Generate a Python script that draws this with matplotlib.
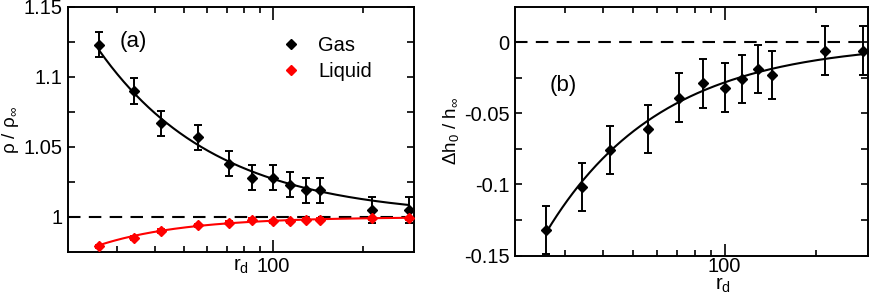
import numpy as np
import matplotlib
matplotlib.use("Agg")
import matplotlib.pyplot as plt
from matplotlib.ticker import FixedLocator, NullFormatter, FuncFormatter
from matplotlib.lines import Line2D

plt.rcParams['font.family'] = ['Liberation Sans', 'DejaVu Sans']
plt.rcParams['mathtext.fontset'] = 'custom'
plt.rcParams['mathtext.rm'] = 'Liberation Sans'
plt.rcParams['mathtext.it'] = 'Liberation Sans:italic'
plt.rcParams['mathtext.default'] = 'regular'
plt.rcParams['axes.unicode_minus'] = False

# ---------------- data ----------------
r_d = [26, 34, 42, 56, 71, 85, 100, 114, 129, 143, 214, 284]

series_names = ["Gas", "Liquid"]
gas_rho = [1.123, 1.090, 1.067, 1.057, 1.038, 1.028, 1.028, 1.023, 1.019, 1.019, 1.005, 1.005]
gas_err = [0.009, 0.009, 0.009, 0.009, 0.009, 0.009, 0.009, 0.009, 0.009, 0.009, 0.009, 0.009]
liq_rho = [0.979, 0.985, 0.990, 0.994, 0.996, 0.998, 0.997, 0.997, 0.998, 0.998, 0.999, 0.999]
liq_err = [0.0012, 0.0012, 0.0012, 0.0012, 0.0012, 0.0012, 0.0012, 0.0012, 0.0012, 0.0012, 0.0012, 0.0012]

dh = [-0.132, -0.102, -0.076, -0.061, -0.039, -0.029, -0.032, -0.026, -0.019, -0.023, -0.006, -0.006]
dh_err = [0.017, 0.017, 0.017, 0.017, 0.017, 0.017, 0.017, 0.017, 0.017, 0.017, 0.017, 0.017]

# power-law fit parameters (amplitude, exponent)
gas_fit = (4.30, 1.10)     # rho/rho_inf = 1 + A r^-p
liq_fit = (2.68, 1.50)     # rho/rho_inf = 1 - A r^-p
dh_fit = (5.66, 1.15)      # dh0/h_inf = -A r^-p

x_major = [100]
x_minor = [30, 40, 50, 60, 70, 80, 90, 200]

FS = 14.5
MS = 5.2
W, H = 872, 295
fig = plt.figure(figsize=(W / 100, H / 100), dpi=100)
ax1 = fig.add_axes([68 / W, (H - 252) / H, 346 / W, 245 / H])
ax2 = fig.add_axes([515 / W, (H - 255.5) / H, 353 / W, 249 / H])

rf = np.geomspace(r_d[0], r_d[-1], 300)


def style(ax, xpad):
    ax.set_xscale('log')
    ax.set_xlim(20.5, 296)
    ax.xaxis.set_major_locator(FixedLocator(x_major))
    ax.xaxis.set_minor_locator(FixedLocator(x_minor))
    ax.xaxis.set_major_formatter(FuncFormatter(lambda v, p: '%g' % v))
    ax.xaxis.set_minor_formatter(NullFormatter())
    ax.yaxis.set_major_formatter(FuncFormatter(lambda v, p: '%g' % round(v, 4)))
    ax.tick_params(which='both', direction='in', top=True, right=True,
                   width=1.2, labelsize=FS, colors='black')
    ax.tick_params(axis='x', which='major', length=9, pad=xpad)
    ax.tick_params(axis='x', which='minor', length=4.5)
    ax.tick_params(axis='y', which='both', length=5, pad=4)
    for s in ax.spines.values():
        s.set_linewidth(1.4)


# -------- panel (a) --------
style(ax1, 3.5)
ax1.set_ylim(0.975, 1.15)
ax1.yaxis.set_major_locator(FixedLocator([1.0, 1.05, 1.1, 1.15]))
ax1.yaxis.set_minor_locator(FixedLocator([1.025, 1.075, 1.125]))
ax1.axhline(1.0, color='black', lw=1.5, ls=(0, (6, 4)), zorder=1)
ax1.plot(rf, 1 + gas_fit[0] * rf ** (-gas_fit[1]), color='black', lw=1.5, zorder=2)
ax1.plot(rf, 1 - liq_fit[0] * rf ** (-liq_fit[1]), color='red', lw=1.5, zorder=2)
ax1.errorbar(r_d, gas_rho, yerr=gas_err, fmt='D', color='black', ms=MS,
             elinewidth=1.4, capsize=2.8, capthick=1.4, zorder=3)
ax1.errorbar(r_d, liq_rho, yerr=liq_err, fmt='D', color='red', ms=MS,
             elinewidth=1.4, capsize=2.8, capthick=1.4, zorder=3)
ax1.set_ylabel(r'$\rho\ /\ \rho_{\infty}$', fontsize=FS - 1, labelpad=2)
ax1.set_xlabel(r'$r_d$', fontsize=FS)
ax1.xaxis.set_label_coords(0.5, -0.02)
ax1.text(0.19, 0.861, '(a)', transform=ax1.transAxes, fontsize=FS + 1.5,
         ha='center', va='center')
handles = [Line2D([], [], marker='D', color='black', ls='none', ms=MS),
           Line2D([], [], marker='D', color='red', ls='none', ms=MS)]
ax1.legend(handles, series_names, loc='upper left', bbox_to_anchor=(0.615, 0.88),
           frameon=False, fontsize=FS, handlelength=1.0, handletextpad=0.85,
           borderpad=0, borderaxespad=0, labelspacing=0.35)

# -------- panel (b) --------
style(ax2, 1.0)
ax2.set_ylim(-0.15, 0.025)
ax2.yaxis.set_major_locator(FixedLocator([-0.15, -0.1, -0.05, 0.0]))
ax2.yaxis.set_minor_locator(FixedLocator([-0.125, -0.075, -0.025]))
ax2.axhline(0.0, color='black', lw=1.5, ls=(0, (6, 4)), zorder=1)
ax2.plot(rf, -dh_fit[0] * rf ** (-dh_fit[1]), color='black', lw=1.5, zorder=2)
ax2.errorbar(r_d, dh, yerr=dh_err, fmt='D', color='black', ms=MS,
             elinewidth=1.4, capsize=2.8, capthick=1.4, zorder=3)
ax2.set_ylabel(r'$\Delta h_0\ /\ h_{\infty}$', fontsize=FS - 1, labelpad=2)
ax2.set_xlabel(r'$r_d$', fontsize=FS, labelpad=0)
ax2.xaxis.set_label_coords(0.59, -0.08)
ax2.text(0.136, 0.681, '(b)', transform=ax2.transAxes, fontsize=FS + 1.5,
         ha='center', va='center')

fig.savefig('out.png', dpi=100)
